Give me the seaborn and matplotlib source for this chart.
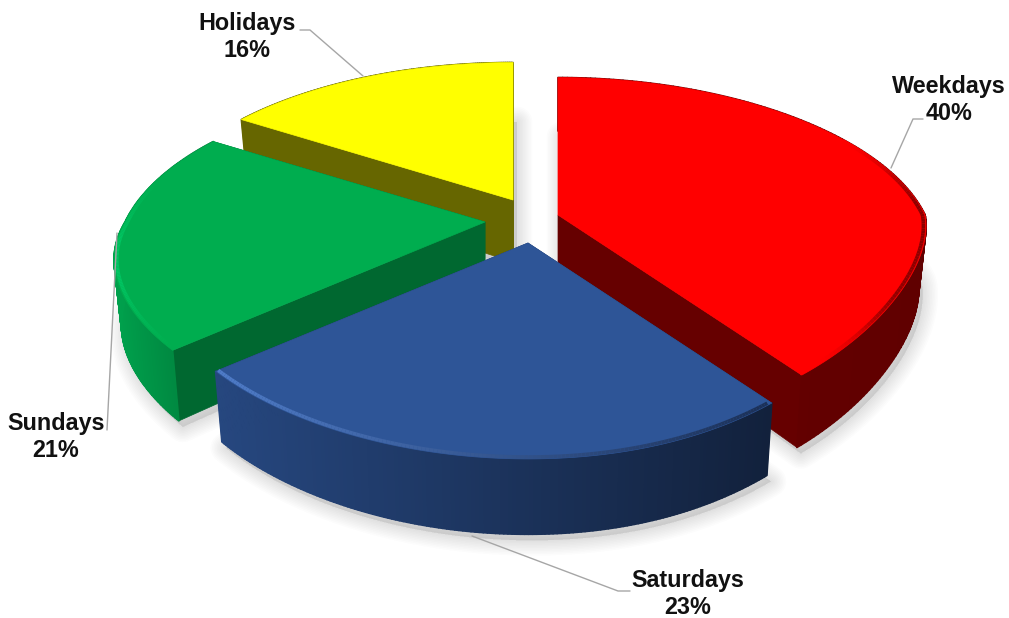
import numpy as np
import matplotlib
matplotlib.use('Agg')
import matplotlib.pyplot as plt
import seaborn as sns
from matplotlib.collections import LineCollection, PolyCollection
from matplotlib.colors import to_rgb

# Data
categories = ['Weekdays', 'Saturdays', 'Sundays', 'Holidays']
shares = [40, 23, 21, 16]

# Colours per slice
top_colors = ['#FF0000', '#2E5597', '#00AD4F', '#FFFF00']
wall_colors = ['#660000', '#1E3864', '#006830', '#666600']
rim_left = ['#680000', '#26477F', '#00A04C', '#666600']
rim_right = ['#600000', '#12213C', '#007A3A', '#666600']
bevel_left = ['#FF0000', '#4F7CC8', '#00C864', '#FFFF00']
bevel_right = ['#8A0000', '#1B3057', '#00C25F', '#FFFF00']

# Layout: tip of every slice in pixels, label centres, leader lines
tips = [(558, 215), (528, 243), (485, 222), (513, 200)]
label_pos = [(949, 100), (688, 594), (56, 437), (247, 37)]
leaders = [
    [(923, 119), (913, 119), (891, 168)],
    [(630, 591), (618, 591), (472, 536)],
    [(107, 430), (117, 233)],
    [(300, 30), (310, 30), (363, 76)],
]
draw_order = [3, 2, 0, 1]
# Range of angles where the rim edge catches light
bevel_range = [(60, 150), (144, 227), (227, 285), (0, 0)]

# Perspective of the pie plane
RX, RY, PERSP = 360, 168, 0.222
SKEW_RIGHT, SKEW_LEFT, SKEW_Y = 57, 8, 20
WIDEN_RIGHT = 0.02
DEPTH, SHRINK = 62, 0.98


def project(theta, radius=1.0, lower=False):
    # theta in degrees clockwise from the top
    t = np.radians(theta)
    x, y = radius * np.sin(t), radius * np.cos(t)
    w = 1 + PERSP * y
    front = np.clip(-y, 0, None)
    right = np.clip(x, 0, None) ** 2
    left = np.clip(-x, 0, None) ** 2
    sx = RX * x / w * (1 + WIDEN_RIGHT * right) - SKEW_RIGHT * right * front - SKEW_LEFT * left * front
    sy = -RY * y / w - SKEW_Y * x ** 2 * front
    if lower:
        return sx * SHRINK, sy * SHRINK + DEPTH / w
    return sx, sy


def blend(c1, c2, f):
    c1, c2 = np.array(to_rgb(c1)), np.array(to_rgb(c2))
    return tuple(c1 + (c2 - c1) * f)


sns.set_theme(style='white')
plt.rcParams['font.family'] = ['Liberation Sans', 'DejaVu Sans']

fig = plt.figure(figsize=(10.09, 6.18), dpi=100)
ax = fig.add_axes([0, 0, 1, 1])
ax.set_xlim(0, 1009)
ax.set_ylim(618, 0)
ax.axis('off')

edges = np.concatenate([[0], np.cumsum(shares)]) * 3.6

# Soft shadows first, below everything
for i in draw_order:
    th = np.linspace(edges[i], edges[i + 1], 80)
    tx, ty = tips[i]
    bx, by = project(th, lower=True)
    px = np.concatenate([[tx], tx + bx]) + 4
    py = np.concatenate([[ty + DEPTH], ty + by]) + 6
    for lw in np.linspace(2, 22, 10):
        ax.fill(px, py, facecolor='#777777', edgecolor='#777777', alpha=0.02,
                linewidth=lw, joinstyle='round', zorder=1)

z = 2
for i in draw_order:
    th = np.linspace(edges[i], edges[i + 1], 160)
    tx, ty = tips[i]
    ux, uy = project(th)
    lx, ly = project(th, lower=True)
    ux, uy, lx, ly = tx + ux, ty + uy, tx + lx, ty + ly
    apex_low = (tx, ty + DEPTH)

    # The two flat walls
    for j in (0, -1):
        ax.fill([tx, ux[j], lx[j], apex_low[0]], [ty, uy[j], ly[j], apex_low[1]],
                color=wall_colors[i], linewidth=0.5, zorder=z)
    z += 1

    # Curved rim, colour runs left to right on screen
    f = (ux[:-1] - ux.min()) / (ux.max() - ux.min())
    quads = [[(ux[n], uy[n]), (ux[n + 1], uy[n + 1]), (lx[n + 1], ly[n + 1]), (lx[n], ly[n])]
             for n in range(len(th) - 1)]
    cols = [blend(rim_left[i], rim_right[i], v) for v in f]
    ax.add_collection(PolyCollection(quads, facecolors=cols, edgecolors=cols,
                                     linewidths=1.2, zorder=z))
    z += 1

    # Top face
    ax.fill(np.concatenate([[tx], ux]), np.concatenate([[ty], uy]),
            color=top_colors[i], linewidth=0.5, zorder=z)
    z += 1

    # Bevel highlight just inside the rim edge, fades out to the top colour at its ends
    bx, by = project(th, radius=0.993)
    bx, by = tx + bx, ty + by
    lo, hi = bevel_range[i]
    segs, bev = [], []
    for n in range(len(th) - 1):
        if lo < th[n] < hi:
            fade = min(1, (th[n] - lo) / 25, (hi - th[n]) / 25) if i in (0, 2) else 1
            segs.append([(bx[n], by[n]), (bx[n + 1], by[n + 1])])
            if i == 0:
                # dark only where the edge turns away on the right
                fade = fade * np.clip((f[n] - 0.72) / 0.2, 0, 1)
            bev.append(blend(top_colors[i], blend(bevel_left[i], bevel_right[i], f[n]), fade))
    if segs:
        ax.add_collection(LineCollection(segs, colors=bev, linewidths=2.6, zorder=z))
    z += 1

# Labels and leader lines
for cat, share, (x, y), line in zip(categories, shares, label_pos, leaders):
    lx, ly = zip(*line)
    ax.plot(lx, ly, color='#A6A6A6', linewidth=1.0, zorder=z)
    ax.text(x, y, f'{cat}\n{share}%', ha='center', va='center', fontsize=16.8,
            fontweight='bold', color='#111111', linespacing=1.2, zorder=z + 1)

sns.despine(fig=fig, left=True, bottom=True)
fig.savefig('out.png', dpi=100)
plt.close(fig)
